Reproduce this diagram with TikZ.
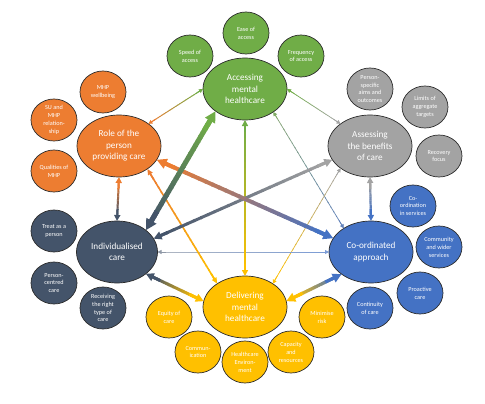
\documentclass[tikz,border=0pt]{standalone}
\usepackage{fontspec}
\setmainfont{Carlito}
\usetikzlibrary{shapes.geometric,arrows.meta,calc}
\definecolor{cgreen}{HTML}{70AD47}
\definecolor{corange}{HTML}{ED7D31}
\definecolor{cgray}{HTML}{A3A3A3}
\definecolor{cnavy}{HTML}{44546A}
\definecolor{cblue}{HTML}{4472C4}
\definecolor{cyellow}{HTML}{FFC000}
\definecolor{cedge}{HTML}{2B2B2B}
% #1 from, #2 to, #3 colour at from, #4 colour at to, #5 width, #6 tip length, #7 tip width
\newcommand\gradconn[7]{%
  \path (#1) coordinate (gS) (#2) coordinate (gE);
  \path ($(gS)!#6!(gE)$) coordinate (gSi) ($(gE)!#6!(gS)$) coordinate (gEi);
  \foreach \k in {0,...,23}{%
    \pgfmathsetmacro\ta{\k/24}%
    \pgfmathsetmacro\tb{min(1,(\k+1.2)/24)}%
    \pgfmathtruncatemacro\pc{100-(\k+0.5)*100/24}%
    \draw[line width=#5, draw=#3!\pc!#4] ($(gSi)!\ta!(gEi)$) -- ($(gSi)!\tb!(gEi)$);
  }%
  \draw[line width=#5, draw=#3, fill=#3, {Triangle[length=#6,width=#7]}-] (gS) -- ($(gS)!2!(gSi)$);
  \draw[line width=#5, draw=#4, fill=#4, -{Triangle[length=#6,width=#7]}] ($(gE)!2!(gEi)$) -- (gE);
}
\begin{document}
\begin{tikzpicture}[x=1pt,y=-1pt,
  mainnode/.style={ellipse,draw=cedge,line width=0.7pt,minimum width=84pt,minimum height=62pt,
    inner sep=0pt,outer sep=0pt,align=center,text=white,font=\fontsize{9.2}{11.5}\selectfont},
  satnode/.style={ellipse,draw=cedge,line width=0.7pt,minimum width=46pt,minimum height=42pt,
    inner sep=0pt,outer sep=0pt,align=center,text=white,font=\fontsize{6.2}{7.9}\selectfont}]
\useasboundingbox (0,0) rectangle (485,404);

% main nodes
\node[mainnode,fill=cgreen] (acc) at (245,89) {Accessing\\mental\\healthcare};
\node[mainnode,fill=corange] (role) at (119,146) {Role of the\\person\\providing care};
\node[mainnode,fill=cgray] (ass) at (370,146) {Assessing\\the benefits\\of care};
\node[mainnode,fill=cnavy,minimum width=81pt] (ind) at (117,252) {Individualised\\care};
\node[mainnode,fill=cblue] (coo) at (371,252) {Co-ordinated\\approach};
\node[mainnode,fill=cyellow] (del) at (245,307) {Delivering\\mental\\healthcare};

% green satellites
\node[satnode,fill=cgreen] (s1) at (190,56) {Speed of\\access};
\node[satnode,fill=cgreen] (s2) at (246,33) {Ease of\\access};
\node[satnode,fill=cgreen] (s3) at (301,56) {Frequency\\of access};
% orange satellites
\node[satnode,fill=corange] (s4) at (103,92) {MHP\\wellbeing};
\node[satnode,fill=corange] (s5) at (54,120) {SU and\\MHP\\relation-\\ship};
\node[satnode,fill=corange] (s6) at (54,171) {Qualities of\\MHP};
% gray satellites
\node[satnode,fill=cgray] (s7) at (370,89) {Person-\\specific\\aims and\\outcomes};
\node[satnode,fill=cgray] (s8) at (425,107) {Limits of\\aggregate\\targets};
\node[satnode,fill=cgray] (s9) at (439,156) {Recovery\\focus};
% navy satellites
\node[satnode,fill=cnavy] (s10) at (54,231) {Treat as a\\person};
\node[satnode,fill=cnavy] (s11) at (54,283) {Person-\\centred\\care};
\node[satnode,fill=cnavy] (s12) at (103,308) {Receiving\\the right\\type of\\care};
% blue satellites
\node[satnode,fill=cblue] (s13) at (413,206) {Co-\\ordination\\in services};
\node[satnode,fill=cblue] (s14) at (439,247) {Community\\and wider\\services};
\node[satnode,fill=cblue] (s15) at (420,293) {Proactive\\care};
\node[satnode,fill=cblue] (s16) at (370,308) {Continuity\\of care};
% yellow satellites
\node[satnode,fill=cyellow] (s17) at (169,317) {Equity of\\care};
\node[satnode,fill=cyellow] (s18) at (198,352) {Commun-\\ication};
\node[satnode,fill=cyellow] (s19) at (245,362) {Healthcare\\Environ-\\ment};
\node[satnode,fill=cyellow] (s20) at (291,352) {Capacity\\and\\resources};
\node[satnode,fill=cyellow] (s21) at (322,317) {Minimise\\risk};

% connectors
\gradconn{role.37}{acc.180}{corange}{cgreen}{0.9pt}{4pt}{4pt}
\gradconn{acc.0}{ass.143}{cgreen}{cgray}{0.7pt}{4pt}{4pt}
\gradconn{acc.-39}{coo.139}{cgreen!70!cgray}{cblue!70!cgray}{0.7pt}{4pt}{4pt}
\gradconn{ass.217}{del.40}{cgray}{cyellow}{0.7pt}{4pt}{4pt}
\gradconn{ind.0}{coo.180}{cnavy!60!white}{cblue!70!white}{0.8pt}{4pt}{4pt}
\gradconn{role.-39}{del.140}{corange}{cyellow}{1.6pt}{6pt}{5pt}
\gradconn{acc.270}{del.90}{cgreen}{cyellow}{2pt}{6pt}{6pt}
\gradconn{role.270}{ind.90}{corange}{cnavy}{2pt}{6pt}{6pt}
\gradconn{ass.270}{coo.90}{cgray}{cblue}{2.2pt}{6pt}{6pt}
\gradconn{ass.200}{ind.20}{cgray}{cnavy}{3pt}{8pt}{8pt}
\gradconn{ind.-37}{del.172}{cnavy}{cyellow}{3pt}{8pt}{8pt}
\gradconn{coo.217}{del.8}{cblue}{cyellow}{3.2pt}{9pt}{9pt}
\gradconn{role.-20}{coo.160}{corange}{cblue}{4pt}{10pt}{10pt}
\gradconn{ind.37}{acc.217}{cnavy}{cgreen}{5pt}{11pt}{11pt}
\end{tikzpicture}
\end{document}
